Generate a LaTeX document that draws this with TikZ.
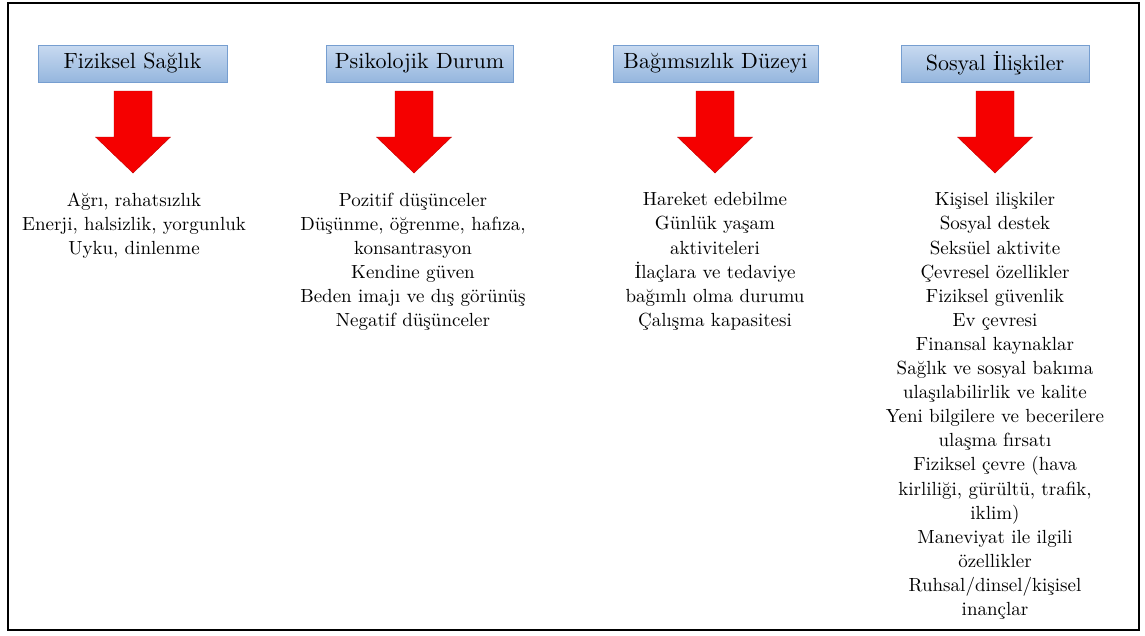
\documentclass[tikz,border=0pt]{standalone}
\usepackage{fontspec}
\setmainfont{lmroman10-regular}[Extension=.otf]
\usepackage{xcolor}
\usepackage{tikz}

\definecolor{boxtop}{RGB}{200,218,240}
\definecolor{boxbot}{RGB}{149,182,222}
\definecolor{boxline}{RGB}{118,158,208}
\definecolor{arrowred}{RGB}{245,0,0}

\tikzset{
  head/.style={draw=boxline, top color=boxtop, bottom color=boxbot,
    minimum height=37pt, inner sep=0pt, font=\fontsize{22}{26}\selectfont},
  items/.style={align=center, anchor=north, inner sep=0pt,
    font=\fontsize{19}{24.1}\selectfont},
  blockarrow/.style={fill=arrowred, draw=red!75!black, line width=0.4pt}
}

\begin{document}
\begin{tikzpicture}[x=1pt,y=-1pt]
\useasboundingbox (0,0) rectangle (1145,635);
\draw[line width=1.6pt] (8,3) rectangle (1139,630);

\node[head, minimum width=189pt] (h1) at (132.5,63.5) {Fiziksel Sağlık};
\node[head, minimum width=187pt] (h2) at (419.5,63.5) {Psikolojik Durum};
\node[head, minimum width=205pt] (h3) at (715.5,63.5) {Bağımsızlık Düzeyi};
\node[head, minimum width=188pt] (h4) at (995,63.5) {Sosyal İlişkiler};

\fill[blockarrow] (133-19,91)--(133+19,91)--(133+19,137)--(133+37.5,137)--(133,173)--(133-37.5,137)--(133-19,137)--cycle;
\fill[blockarrow] (414-19,91)--(414+19,91)--(414+19,137)--(414+37.5,137)--(414,173)--(414-37.5,137)--(414-19,137)--cycle;
\fill[blockarrow] (715-19,91)--(715+19,91)--(715+19,137)--(715+37.5,137)--(715,173)--(715-37.5,137)--(715-19,137)--cycle;
\fill[blockarrow] (995-19,91)--(995+19,91)--(995+19,137)--(995+37.5,137)--(995,173)--(995-37.5,137)--(995-19,137)--cycle;

\node[items] (l1) at (134,192.5) {Ağrı, rahatsızlık\\Enerji, halsizlik, yorgunluk\\Uyku, dinlenme};
\node[items] (l2) at (413,192.5) {Pozitif düşünceler\\Düşünme, öğrenme, hafıza,\\konsantrasyon\\Kendine güven\\Beden imajı ve dış görünüş\\Negatif düşünceler};
\node[items] (l3) at (715,192.5) {Hareket edebilme\\Günlük yaşam\\aktiviteleri\\İlaçlara ve tedaviye\\bağımlı olma durumu\\Çalışma kapasitesi};
\node[items] (l4) at (995,192.5) {Kişisel ilişkiler\\Sosyal destek\\Seksüel aktivite\\Çevresel özellikler\\Fiziksel güvenlik\\Ev çevresi\\Finansal kaynaklar\\Sağlık ve sosyal bakıma\\ulaşılabilirlik ve kalite\\Yeni bilgilere ve becerilere\\ulaşma fırsatı\\Fiziksel çevre (hava\\kirliliği, gürültü, trafik,\\iklim)\\Maneviyat ile ilgili\\özellikler\\Ruhsal/dinsel/kişisel\\inançlar};

\end{tikzpicture}
\end{document}
